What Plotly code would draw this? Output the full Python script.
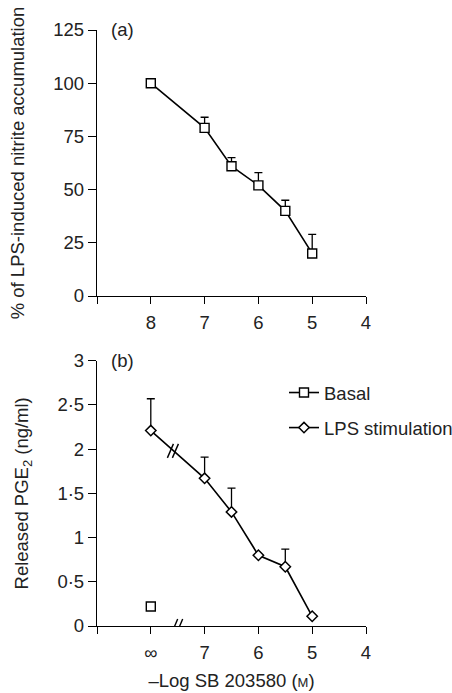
import plotly.graph_objects as go

# ---- data ----
# panel (a): % of LPS-induced nitrite accumulation vs -log[SB 203580]
a_logconc = [8, 7, 6.5, 6, 5.5, 5]
a_values = [100, 79, 61, 52, 40, 20]
a_err_up = [0, 5, 4, 6, 5, 9]

# panel (b): released PGE2 (ng/ml); first point is "∞" (no drug), drawn at the 8 slot
b_logconc = [8, 7, 6.5, 6, 5.5, 5]
b_lps = [2.21, 1.67, 1.29, 0.80, 0.67, 0.11]
b_lps_err_up = [0.36, 0.24, 0.27, 0, 0.20, 0]
b_basal_x = [8]
b_basal = [0.22]

x_tickvals = [8, 7, 6, 5, 4]
a_xticktext = ["8", "7", "6", "5", "4"]
b_xticktext = ["∞", "7", "6", "5", "4"]
a_yticks = [0, 25, 50, 75, 100, 125]
b_yticks = [0, 0.5, 1, 1.5, 2, 2.5, 3]
b_yticktext = ["0", "0·5", "1", "1·5", "2", "2·5", "3"]

FONT = "Liberation Sans, Arial, sans-serif"
TXT = "#222222"
FS = 18.5
W, H = 452, 693

fig = go.Figure()

fig.add_trace(go.Scatter(
    x=a_logconc, y=a_values, mode="lines+markers", xaxis="x", yaxis="y",
    line=dict(color="black", width=1.6),
    marker=dict(symbol="square", size=9, color="white", line=dict(width=1.4, color="black")),
    error_y=dict(type="data", symmetric=False, array=a_err_up,
                 arrayminus=[0] * len(a_err_up), color="black", thickness=1.3, width=4),
    showlegend=False,
))

fig.add_trace(go.Scatter(
    x=b_basal_x, y=b_basal, mode="lines+markers", name="Basal", xaxis="x2", yaxis="y2",
    line=dict(color="black", width=1.6),
    marker=dict(symbol="square", size=9, color="white", line=dict(width=1.4, color="black")),
    legendgroup="g1",
))

fig.add_trace(go.Scatter(
    x=b_logconc, y=b_lps, mode="lines+markers", name="LPS stimulation", xaxis="x2", yaxis="y2",
    line=dict(color="black", width=1.6),
    marker=dict(symbol="diamond", size=8, color="white", line=dict(width=1.5, color="black")),
    error_y=dict(type="data", symmetric=False, array=b_lps_err_up,
                 arrayminus=[0] * len(b_lps_err_up), color="black", thickness=1.3, width=4),
    legendgroup="g2",
))

xdom = [97 / W, 366 / W]
ya_dom = [(H - 296) / H, (H - 30) / H]
yb_dom = [(H - 626) / H, (H - 360.7) / H]

common_x = dict(range=[9, 4], domain=xdom, showline=True, linecolor="black", linewidth=1.3,
                ticks="outside", ticklen=7, tickwidth=1.3, tickcolor="black",
                tickvals=x_tickvals, showgrid=False, zeroline=False, automargin=False,
                ticklabelstandoff=3,
                minor=dict(tickvals=[9], ticks="outside", ticklen=7, tickwidth=1.3,
                           tickcolor="black", showgrid=False),
                tickfont=dict(family=FONT, size=FS, color=TXT), fixedrange=True)
common_y = dict(showline=True, linecolor="black", linewidth=1.3,
                ticks="outside", ticklen=8, tickwidth=1.3, tickcolor="black",
                showgrid=False, zeroline=False, automargin=False,
                tickfont=dict(family=FONT, size=FS, color=TXT), fixedrange=True)

fig.update_layout(
    width=W, height=H, margin=dict(l=0, r=0, t=0, b=0, autoexpand=False),
    paper_bgcolor="white", plot_bgcolor="white",
    font=dict(family=FONT, size=FS, color=TXT),
    xaxis=dict(common_x, anchor="y", ticktext=a_xticktext),
    yaxis=dict(common_y, domain=ya_dom, anchor="x", range=[0, 125], tickvals=a_yticks,
               title=dict(text="% of LPS-induced nitrite accumulation",
                          font=dict(family=FONT, size=FS, color=TXT), standoff=23)),
    xaxis2=dict(common_x, anchor="y2", ticktext=b_xticktext,
                title=dict(text="–Log SB 203580 (<span style='font-size:13px'>M</span>)",
                           font=dict(family=FONT, size=FS, color=TXT), standoff=11)),
    yaxis2=dict(common_y, domain=yb_dom, anchor="x2", range=[0, 3], tickvals=b_yticks,
                ticktext=b_yticktext,
                title=dict(text="Released PGE<sub>2</sub> (ng/ml)",
                           font=dict(family=FONT, size=FS, color=TXT), standoff=23)),
    legend=dict(x=284 / W, y=(H - 374) / H, xanchor="left", yanchor="top",
                font=dict(family=FONT, size=FS, color=TXT), tracegroupgap=8,
                bgcolor="rgba(0,0,0,0)", borderwidth=0),
    showlegend=True,
)

fig.add_annotation(text="(a)", xref="x domain", yref="y domain", x=0.045, y=1.0,
                   xanchor="left", yanchor="middle", showarrow=False,
                   font=dict(family=FONT, size=FS, color=TXT))
fig.add_annotation(text="(b)", xref="x2 domain", yref="y2 domain", x=0.045, y=1.0,
                   xanchor="left", yanchor="middle", showarrow=False,
                   font=dict(family=FONT, size=FS, color=TXT))

# axis-break marks "//" (on the x axis at 7.5 and on the line between ∞ and 7)
def break_marks(xa, ya, xv, yv):
    for dx in (-3, 2):
        fig.add_shape(type="line", xref=xa, yref=ya, xsizemode="pixel", ysizemode="pixel",
                      xanchor=xv, yanchor=yv, x0=dx - 3, x1=dx + 3, y0=-7, y1=7,
                      line=dict(color="black", width=1.4))

break_marks("x2", "y2", 7.5, 0)
break_marks("x2", "y2", 7.58, 1.98)

fig.write_html("out.html", config={"displayModeBar": False},
               post_script="document.body.style.margin='0';document.body.style.overflow='hidden';")
